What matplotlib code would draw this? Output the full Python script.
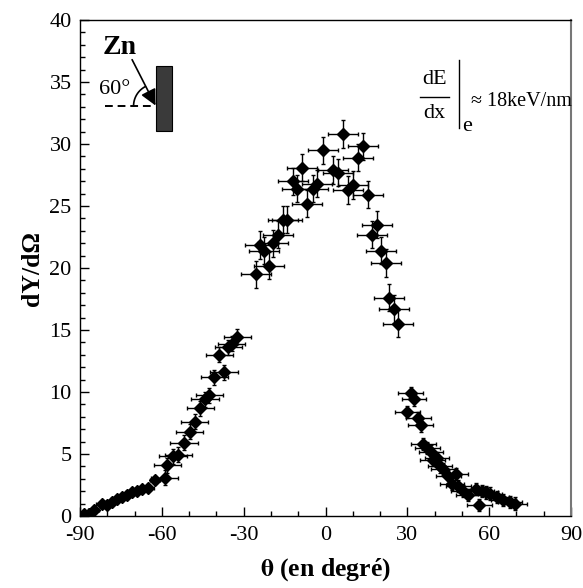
import numpy as np
import matplotlib
matplotlib.use("Agg")
import matplotlib.pyplot as plt
from matplotlib.patches import Rectangle, FancyArrowPatch

plt.rcParams['font.family'] = ['Liberation Serif', 'DejaVu Serif']
plt.rcParams['mathtext.fontset'] = 'stix'
plt.rcParams['axes.unicode_minus'] = False

# ---- data ----
theta_left = [-88.6, -86.8, -85.0, -82.1, -80.2, -78.4, -76.6, -74.7, -72.9, -71.1,
              -69.2, -67.4, -65.0, -62.5]
y_left = [0.15, 0.2, 0.5, 1.0, 0.9, 1.15, 1.35, 1.5, 1.7, 1.9,
          2.05, 2.15, 2.25, 2.9]

theta_rise = [-58.9, -58.0, -55.9, -54.0, -51.9, -49.8, -48.0, -45.9, -44.2, -42.6,
              -40.7, -38.9, -37.2, -35.6, -34.4, -32.3]
y_rise = [3.1, 4.1, 4.8, 4.95, 5.9, 6.8, 7.6, 8.7, 9.4, 9.75,
          11.2, 13.0, 11.6, 13.6, 13.9, 14.45]

theta_peak = [-25.5, -24.0, -22.6, -20.6, -19.1, -17.3, -15.5, -14.2, -12.0, -10.3,
              -8.5, -6.7, -4.7, -3.0, -1.0, 2.6, 4.7, 6.3, 8.1, 10.0,
              11.8, 13.6, 15.5, 16.9, 18.8, 20.2, 22.2, 23.4, 25.1, 26.7]
y_peak = [19.5, 21.85, 21.4, 20.2, 22.0, 22.7, 23.9, 23.9, 27.0, 26.4,
          28.1, 25.2, 26.4, 26.8, 29.5, 27.9, 27.7, 30.8, 26.3, 26.7,
          28.9, 29.8, 25.9, 22.7, 23.5, 21.4, 20.4, 17.6, 16.7, 15.5]

theta_right = [30.0, 31.2, 32.5, 34.0, 34.9, 35.9, 37.3, 38.6, 39.3, 40.8,
               42.0, 43.2, 45.0, 46.3, 47.9, 48.7, 50.5, 52.4, 55.2, 56.4,
               57.3, 58.8, 60.3, 62.8, 65.2, 67.7, 69.5]
y_right = [8.4, 9.9, 9.4, 7.9, 7.3, 5.8, 5.5, 5.2, 4.5, 4.65,
           4.0, 3.8, 3.2, 2.6, 3.4, 2.4, 2.0, 1.7, 2.2, 0.9,
           2.0, 1.9, 1.8, 1.55, 1.3, 1.15, 1.0]

# error bars (half widths)
xerr_left, yerr_left = 2.0, 0.2
xerr_rise, yerr_rise = 5.0, 0.6
xerr_peak, yerr_peak = 5.5, 1.1
xerr_right, yerr_right = 4.5, 0.5

xticks = [-90, -60, -30, 0, 30, 60, 90]
yticks = [0, 5, 10, 15, 20, 25, 30, 35, 40]

# ---- figure ----
W, H = 583, 588
fig = plt.figure(figsize=(W / 100, H / 100), dpi=100)
ax = fig.add_axes([80 / W, 1 - 516 / H, 491 / W, 496 / H])

for th, yy, xe, ye in [(theta_left, y_left, xerr_left, yerr_left),
                       (theta_rise, y_rise, xerr_rise, yerr_rise),
                       (theta_peak, y_peak, xerr_peak, yerr_peak),
                       (theta_right, y_right, xerr_right, yerr_right)]:
    ax.errorbar(th, yy, xerr=xe, yerr=ye, fmt='D', color='black', ms=6,
                mec='black', mfc='black', ecolor='black', elinewidth=1.0,
                capsize=1.2, capthick=1.0, zorder=3)

ax.set_xlim(-90, 90)
ax.set_ylim(0, 40)
ax.set_xticks(xticks)
ax.set_yticks(yticks)
ax.set_xticks(np.arange(-90, 91, 10), minor=True)
ax.set_yticks(np.arange(0, 41, 1), minor=True)
ax.tick_params(which='major', direction='in', length=6.5, width=1.0, labelsize=16,
               pad=6)
ax.tick_params(which='minor', direction='in', length=3.5, width=1.0)
ax.tick_params(axis='x', pad=7)
for s in ['left', 'bottom', 'top']:
    ax.spines[s].set_linewidth(1.0)
ax.spines['right'].set_color('#777777')
ax.spines['right'].set_linewidth(1.5)

ax.set_xlabel(r'$\mathbf{\theta}$ (en degré)', fontsize=18.5, fontweight='bold',
              labelpad=8)
ax.set_ylabel('dY/dΩ', fontsize=18.5, fontweight='bold', labelpad=4)

# ---- inset sketch (top-left) ----
ax.add_patch(Rectangle((-62.2, 31.05), 5.9, 5.25, facecolor='#3a3a3a',
                       edgecolor='black', linewidth=0.8, zorder=4))
ax.plot([-80.9, -62.5], [33.06, 33.06], color='black', lw=1.4,
        linestyle=(0, (4, 2.5)), zorder=4)
arr = FancyArrowPatch((-70.9, 36.8), (-62.3, 33.1), arrowstyle='-|>',
                      mutation_scale=24, color='black', lw=1.2, zorder=5,
                      shrinkA=0, shrinkB=0)
ax.add_patch(arr)
# arc for the angle (drawn with equal pixel radius)
pxx = 491 / 180.0
pxy = 496 / 40.0
r = 22
a = np.deg2rad(np.linspace(118, 180, 40))
ax.plot(-62.3 + r * np.cos(a) / pxx, 33.06 + r * np.sin(a) / pxy,
        color='black', lw=1.2, zorder=5)
ax.text(-77.2, 34.4, '60°', fontsize=16, ha='center', va='center')
ax.text(-75.5, 37.8, 'Zn', fontsize=20, fontweight='bold', ha='center',
        va='center')

# ---- dE/dx annotation (top-right) ----
ax.text(39.8, 35.2, 'dE', fontsize=16, ha='center', va='center')
ax.plot([34.7, 45.3], [33.8, 33.8], color='black', lw=1.0)
ax.text(39.8, 32.45, 'dx', fontsize=16, ha='center', va='center')
ax.plot([49.0, 49.0], [31.3, 36.8], color='black', lw=1.0)
ax.text(52.0, 31.4, 'e', fontsize=16, ha='center', va='center')
ax.text(53.3, 33.4, '≈ 18keV/nm', fontsize=14.5, ha='left', va='center')

fig.savefig('out.png', dpi=100)
